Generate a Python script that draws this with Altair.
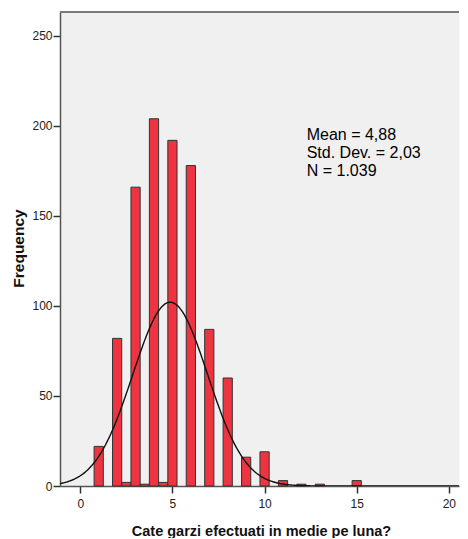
import altair as alt
import pandas as pd

# Histogram bins (centre of each bar) and counts
bin_centers = [1, 2, 2.5, 3, 3.5, 4, 4.5, 5, 6, 7, 8, 9, 10, 11, 12, 13, 15]
counts = [22, 82, 2, 166, 1, 204, 2, 192, 178, 87, 60, 16, 19, 3, 1, 1, 3]
BIN_WIDTH = 0.5

# Summary statistics shown in the chart
MEAN = 4.88
SD = 2.03
N = 1039
stats_lines = ["Mean = 4,88", "Std. Dev. = 2,03", "N = 1.039"]

x_ticks = [0, 5, 10, 15, 20]
y_ticks = [0, 50, 100, 150, 200, 250]
X_DOMAIN = [-1.1, 20.55]
Y_DOMAIN = [0, 263.3]

df = pd.DataFrame({"center": bin_centers, "count": counts})

x_scale = alt.Scale(domain=X_DOMAIN, nice=False, zero=False)
y_scale = alt.Scale(domain=Y_DOMAIN, nice=False)

FONT = "Liberation Sans"
PLOT_W = 399
PLOT_H = 474

bars = alt.Chart(df).transform_calculate(
    lo=f"datum.center - {BIN_WIDTH / 2}",
    hi=f"datum.center + {BIN_WIDTH / 2}",
).mark_bar(fill="#EE3440", stroke="#333333", strokeWidth=1).encode(
    x=alt.X("lo:Q", scale=x_scale,
            axis=alt.Axis(values=x_ticks, title="Cate garzi efectuati in medie pe luna?",
                          grid=False, tickSize=7, labelPadding=5, titleX=201, titleY=49,
                          titleBaseline="alphabetic", titleAlign="center")),
    x2="hi:Q",
    y=alt.Y("count:Q", scale=y_scale,
            axis=alt.Axis(values=y_ticks, title="Frequency", grid=False, tickSize=7,
                          labelPadding=1, titleX=-42, titleY=236, titleAngle=270,
                          titleBaseline="middle", titleAlign="center")),
    y2=alt.datum(0),
)

curve = alt.Chart(alt.sequence(X_DOMAIN[0], X_DOMAIN[1] + 0.01, 0.05, as_="x")).transform_calculate(
    y=f"{N} * {BIN_WIDTH} / ({SD} * sqrt(2 * PI)) * exp(-0.5 * pow((datum.x - {MEAN}) / {SD}, 2))"
).mark_line(color="#111111", strokeWidth=1.4, clip=True).encode(
    x=alt.X("x:Q", scale=x_scale),
    y=alt.Y("y:Q", scale=y_scale),
)

top_border = alt.Chart(pd.DataFrame({"a": [0]})).mark_rule(
    color="#7a7a7a", strokeWidth=2
).encode(x=alt.value(0), x2=alt.value(PLOT_W), y=alt.value(0))

text = alt.Chart(pd.DataFrame({"a": [0]})).mark_text(
    text=stats_lines, align="left", baseline="alphabetic", fontSize=16,
    lineHeight=18, font=FONT, color="#000000",
).encode(x=alt.value(246.7), y=alt.value(128))

chart = alt.layer(bars, curve, top_border, text).properties(
    width=PLOT_W, height=PLOT_H,
    padding={"left": 52, "top": 4, "right": 1, "bottom": 52},
    autosize=alt.AutoSizeParams(type="none"),
    background="#ffffff",
).configure_view(
    fill="#F0F0F0", stroke="transparent",
).configure_axis(
    labelFont=FONT, labelFontSize=12, labelColor="#222222",
    titleFont=FONT, titleFontSize=14.5, titleFontWeight="bold", titleColor="#111111",
    domainColor="#555555", domainWidth=1.5, tickColor="#333333", tickWidth=1.5,
).configure_axisY(titleFontSize=15.5)

chart.save("out.html", embed_options={"renderer": "svg", "actions": False})
